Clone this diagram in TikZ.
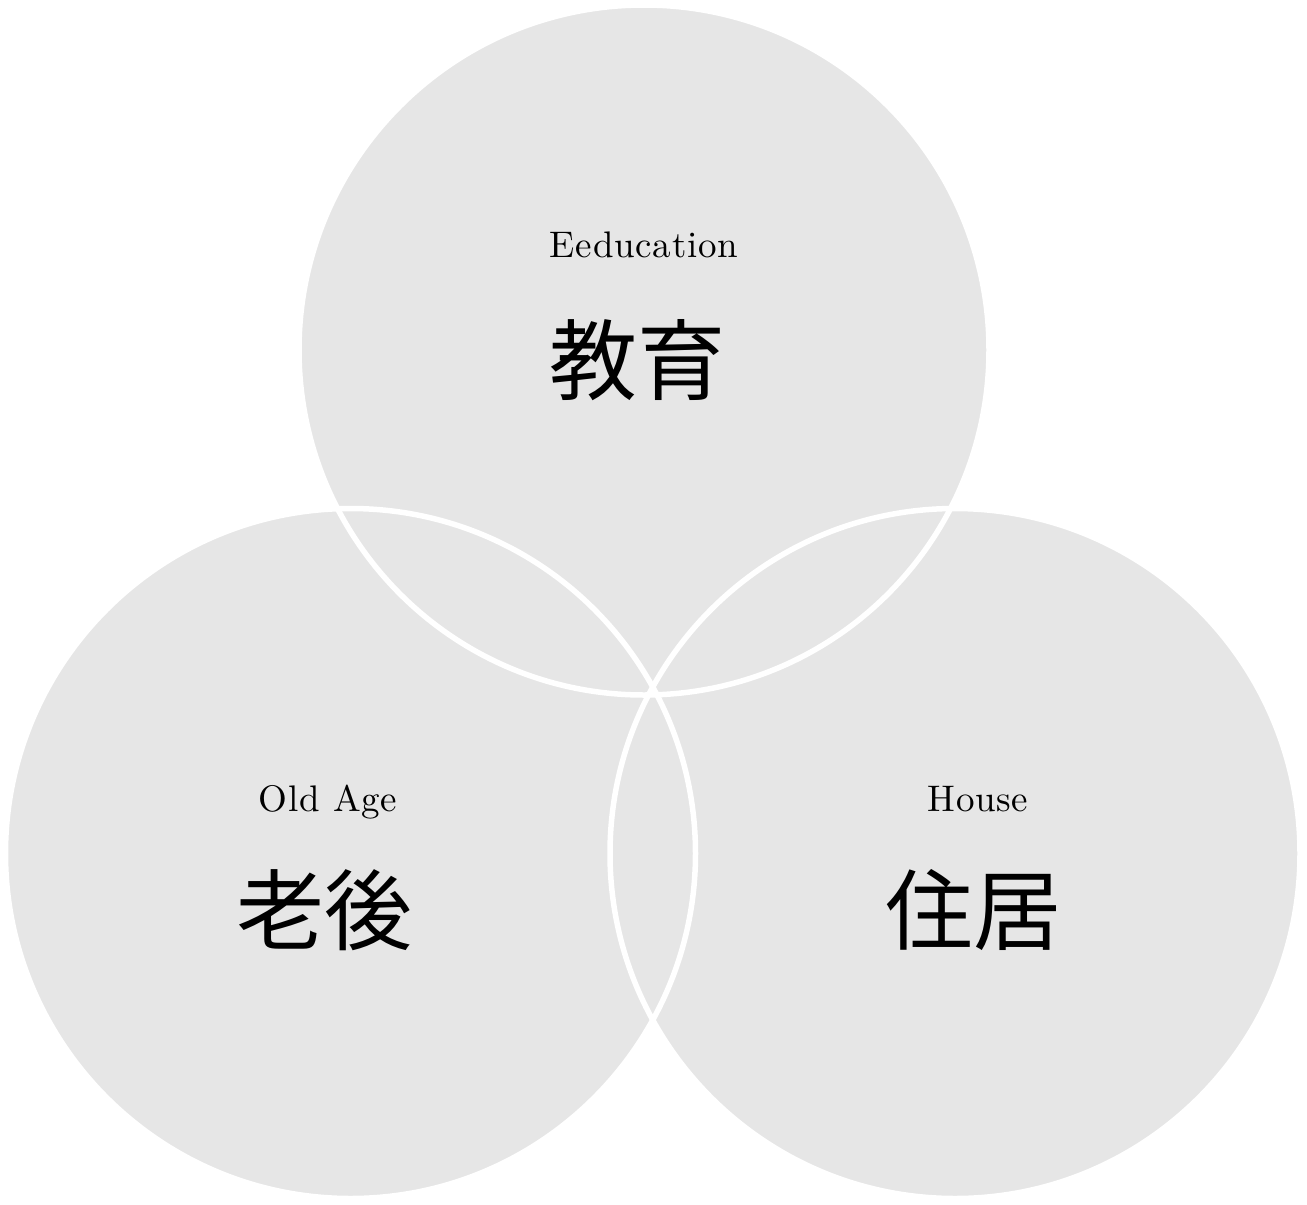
\documentclass[tikz,border=0pt]{standalone}
\usepackage{fontspec}
\newfontfamily\cjk{Noto Sans CJK JP}
\newfontfamily\enfont{lmroman10-regular.otf}[LetterSpace=2]
\tikzset{
  discfill/.style={fill=discgray},
  discline/.style={draw=white, line width=5.5pt},
  entext/.style={anchor=base, inner sep=0pt, font=\enfont\fontsize{37}{37}\selectfont},
  jptext/.style={anchor=base, inner sep=0pt, font=\fontsize{88}{88}\selectfont\cjk},
}
\definecolor{discgray}{HTML}{E6E6E6}
\begin{document}
\begin{tikzpicture}[x=1pt,y=-1pt]
\useasboundingbox (0,0) rectangle (1307,1205);
\coordinate (ct) at (644,350);
\coordinate (cl) at (350.5,853.5);
\coordinate (cr) at (955,853.5);
\fill[discfill] (ct) circle (345);
\fill[discfill] (cl) circle (345);
\fill[discfill] (cr) circle (345);
\draw[discline] (ct) circle (345);
\draw[discline] (cl) circle (345);
\draw[discline] (cr) circle (345);
\node[entext] (en1) at (644,257) {Eeducation};
\node[jptext] (jp1) at (637,393) {教育};
\node[entext] (en2) at (328,811) {Old Age};
\node[jptext] (jp2) at (324,943) {老後};
\node[entext] (en3) at (978,811) {House};
\node[jptext] (jp3) at (973,943) {住居};
\end{tikzpicture}
\end{document}
